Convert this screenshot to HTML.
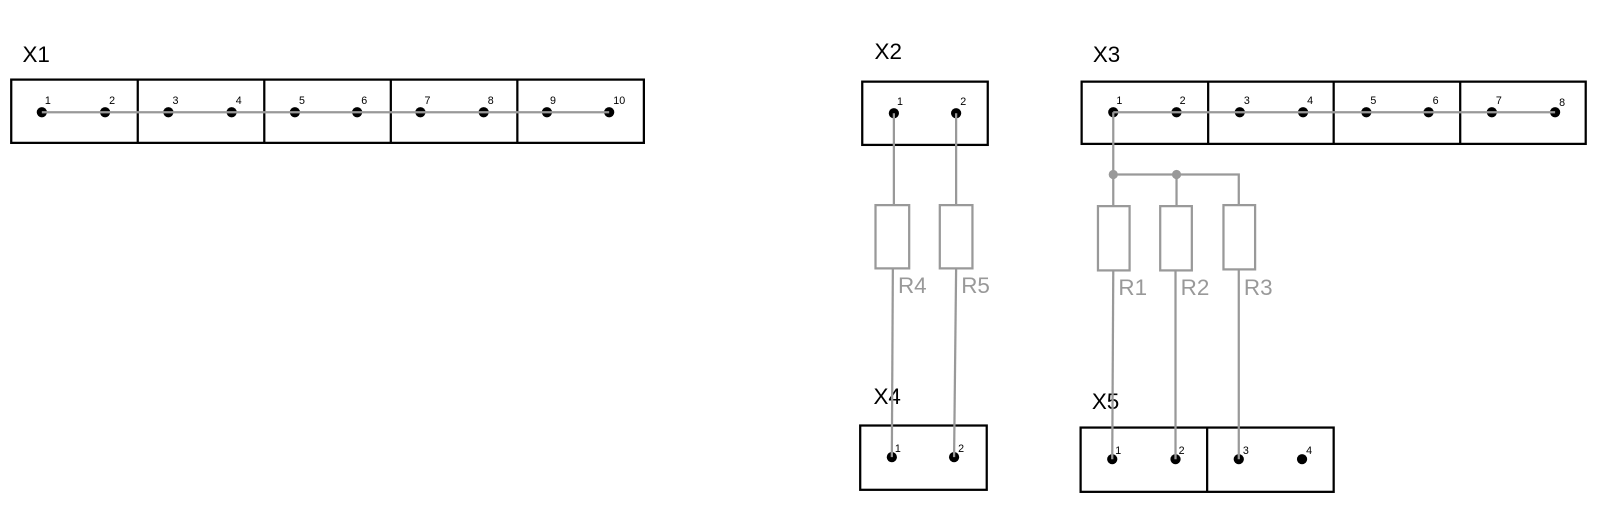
<!DOCTYPE html>
<html><head><meta charset="utf-8"><style>html,body{margin:0;padding:0;background:#fff}svg{display:block}</style></head>
<body>
<svg width="1600" height="529" viewBox="0 0 1568 518.4" xmlns="http://www.w3.org/2000/svg" font-family="Liberation Sans, sans-serif">
<g fill="none" stroke="#000" stroke-width="2.2">
<rect x="11" y="78" width="620" height="62"/>
<line x1="135" y1="78" x2="135" y2="140"/><line x1="259" y1="78" x2="259" y2="140"/><line x1="383" y1="78" x2="383" y2="140"/><line x1="507" y1="78" x2="507" y2="140"/>
<rect x="845" y="80" width="123" height="62"/>
<rect x="1060" y="80" width="494" height="61"/>
<line x1="1184" y1="80" x2="1184" y2="141"/><line x1="1307" y1="80" x2="1307" y2="141"/><line x1="1431" y1="80" x2="1431" y2="141"/>
<rect x="843" y="417" width="124" height="63"/>
<rect x="1059" y="419" width="248" height="63"/>
<line x1="1183" y1="419" x2="1183" y2="482"/>
</g>
<g font-size="22" fill="#000">
<text x="22" y="61">X1</text><text x="857" y="58">X2</text><text x="1071" y="61">X3</text><text x="856" y="396">X4</text><text x="1070" y="401">X5</text>
</g>
<g fill="#000">
<circle cx="41" cy="110" r="5"/><circle cx="103" cy="110" r="5"/><circle cx="165" cy="110" r="5"/><circle cx="227" cy="110" r="5"/><circle cx="289" cy="110" r="5"/><circle cx="350" cy="110" r="5"/><circle cx="412" cy="110" r="5"/><circle cx="474" cy="110" r="5"/><circle cx="536" cy="110" r="5"/><circle cx="597" cy="110" r="5"/>
<circle cx="876" cy="111" r="5"/><circle cx="937" cy="111" r="5"/>
<circle cx="1091" cy="110" r="5"/><circle cx="1153" cy="110" r="5"/><circle cx="1215" cy="110" r="5"/><circle cx="1277" cy="110" r="5"/><circle cx="1339" cy="110" r="5"/><circle cx="1400" cy="110" r="5"/><circle cx="1462" cy="110" r="5"/><circle cx="1524" cy="110" r="5"/>
<circle cx="874" cy="448" r="5"/><circle cx="935" cy="448" r="5"/>
<circle cx="1090" cy="450" r="5"/><circle cx="1152" cy="450" r="5"/><circle cx="1214" cy="450" r="5"/><circle cx="1276" cy="450" r="5"/>
</g>
<g font-size="10.5" fill="#000">
<text x="44" y="102">1</text><text x="107" y="102">2</text><text x="169" y="102">3</text><text x="231" y="102">4</text><text x="293" y="102">5</text><text x="354" y="102">6</text><text x="416" y="102">7</text><text x="478" y="102">8</text><text x="539" y="102">9</text><text x="601" y="102">10</text>
<text x="879" y="103">1</text><text x="941" y="103">2</text>
<text x="1094" y="102">1</text><text x="1156" y="102">2</text><text x="1219" y="102">3</text><text x="1281" y="102">4</text><text x="1343" y="102">5</text><text x="1404" y="102">6</text><text x="1466" y="102">7</text><text x="1528" y="104">8</text>
<text x="877" y="443">1</text><text x="939" y="443">2</text>
<text x="1093" y="445">1</text><text x="1155" y="445">2</text><text x="1218" y="445">3</text><text x="1280" y="445">4</text>
</g>
<g fill="none" stroke="#999" stroke-width="2.2">
<line x1="41" y1="110" x2="597" y2="110"/>
<line x1="1091" y1="110" x2="1524" y2="110"/>
<polyline points="876,111 876,201"/><rect x="858" y="201" width="33" height="62"/><polyline points="875,263 874,448"/>
<polyline points="937,111 937,201"/><rect x="921" y="201" width="32" height="62"/><polyline points="937,263 935,448"/>
<polyline points="1091,110 1091,202"/>
<polyline points="1091,171 1214,171 1214,201"/>
<line x1="1153" y1="171" x2="1153" y2="202"/>
<rect x="1076" y="202" width="31" height="63"/><rect x="1137" y="202" width="31" height="63"/><rect x="1199" y="201" width="31" height="63"/>
<line x1="1091" y1="265" x2="1090" y2="450"/><line x1="1152" y1="265" x2="1152" y2="450"/><line x1="1214" y1="264" x2="1214" y2="450"/>
</g>
<g fill="#999"><circle cx="1091" cy="171" r="4.5"/><circle cx="1153" cy="171" r="4.5"/></g>
<g font-size="22" fill="#999">
<text x="880" y="287">R4</text><text x="942" y="287">R5</text><text x="1096" y="289">R1</text><text x="1157" y="289">R2</text><text x="1219" y="289">R3</text>
</g>
</svg>
</body></html>
